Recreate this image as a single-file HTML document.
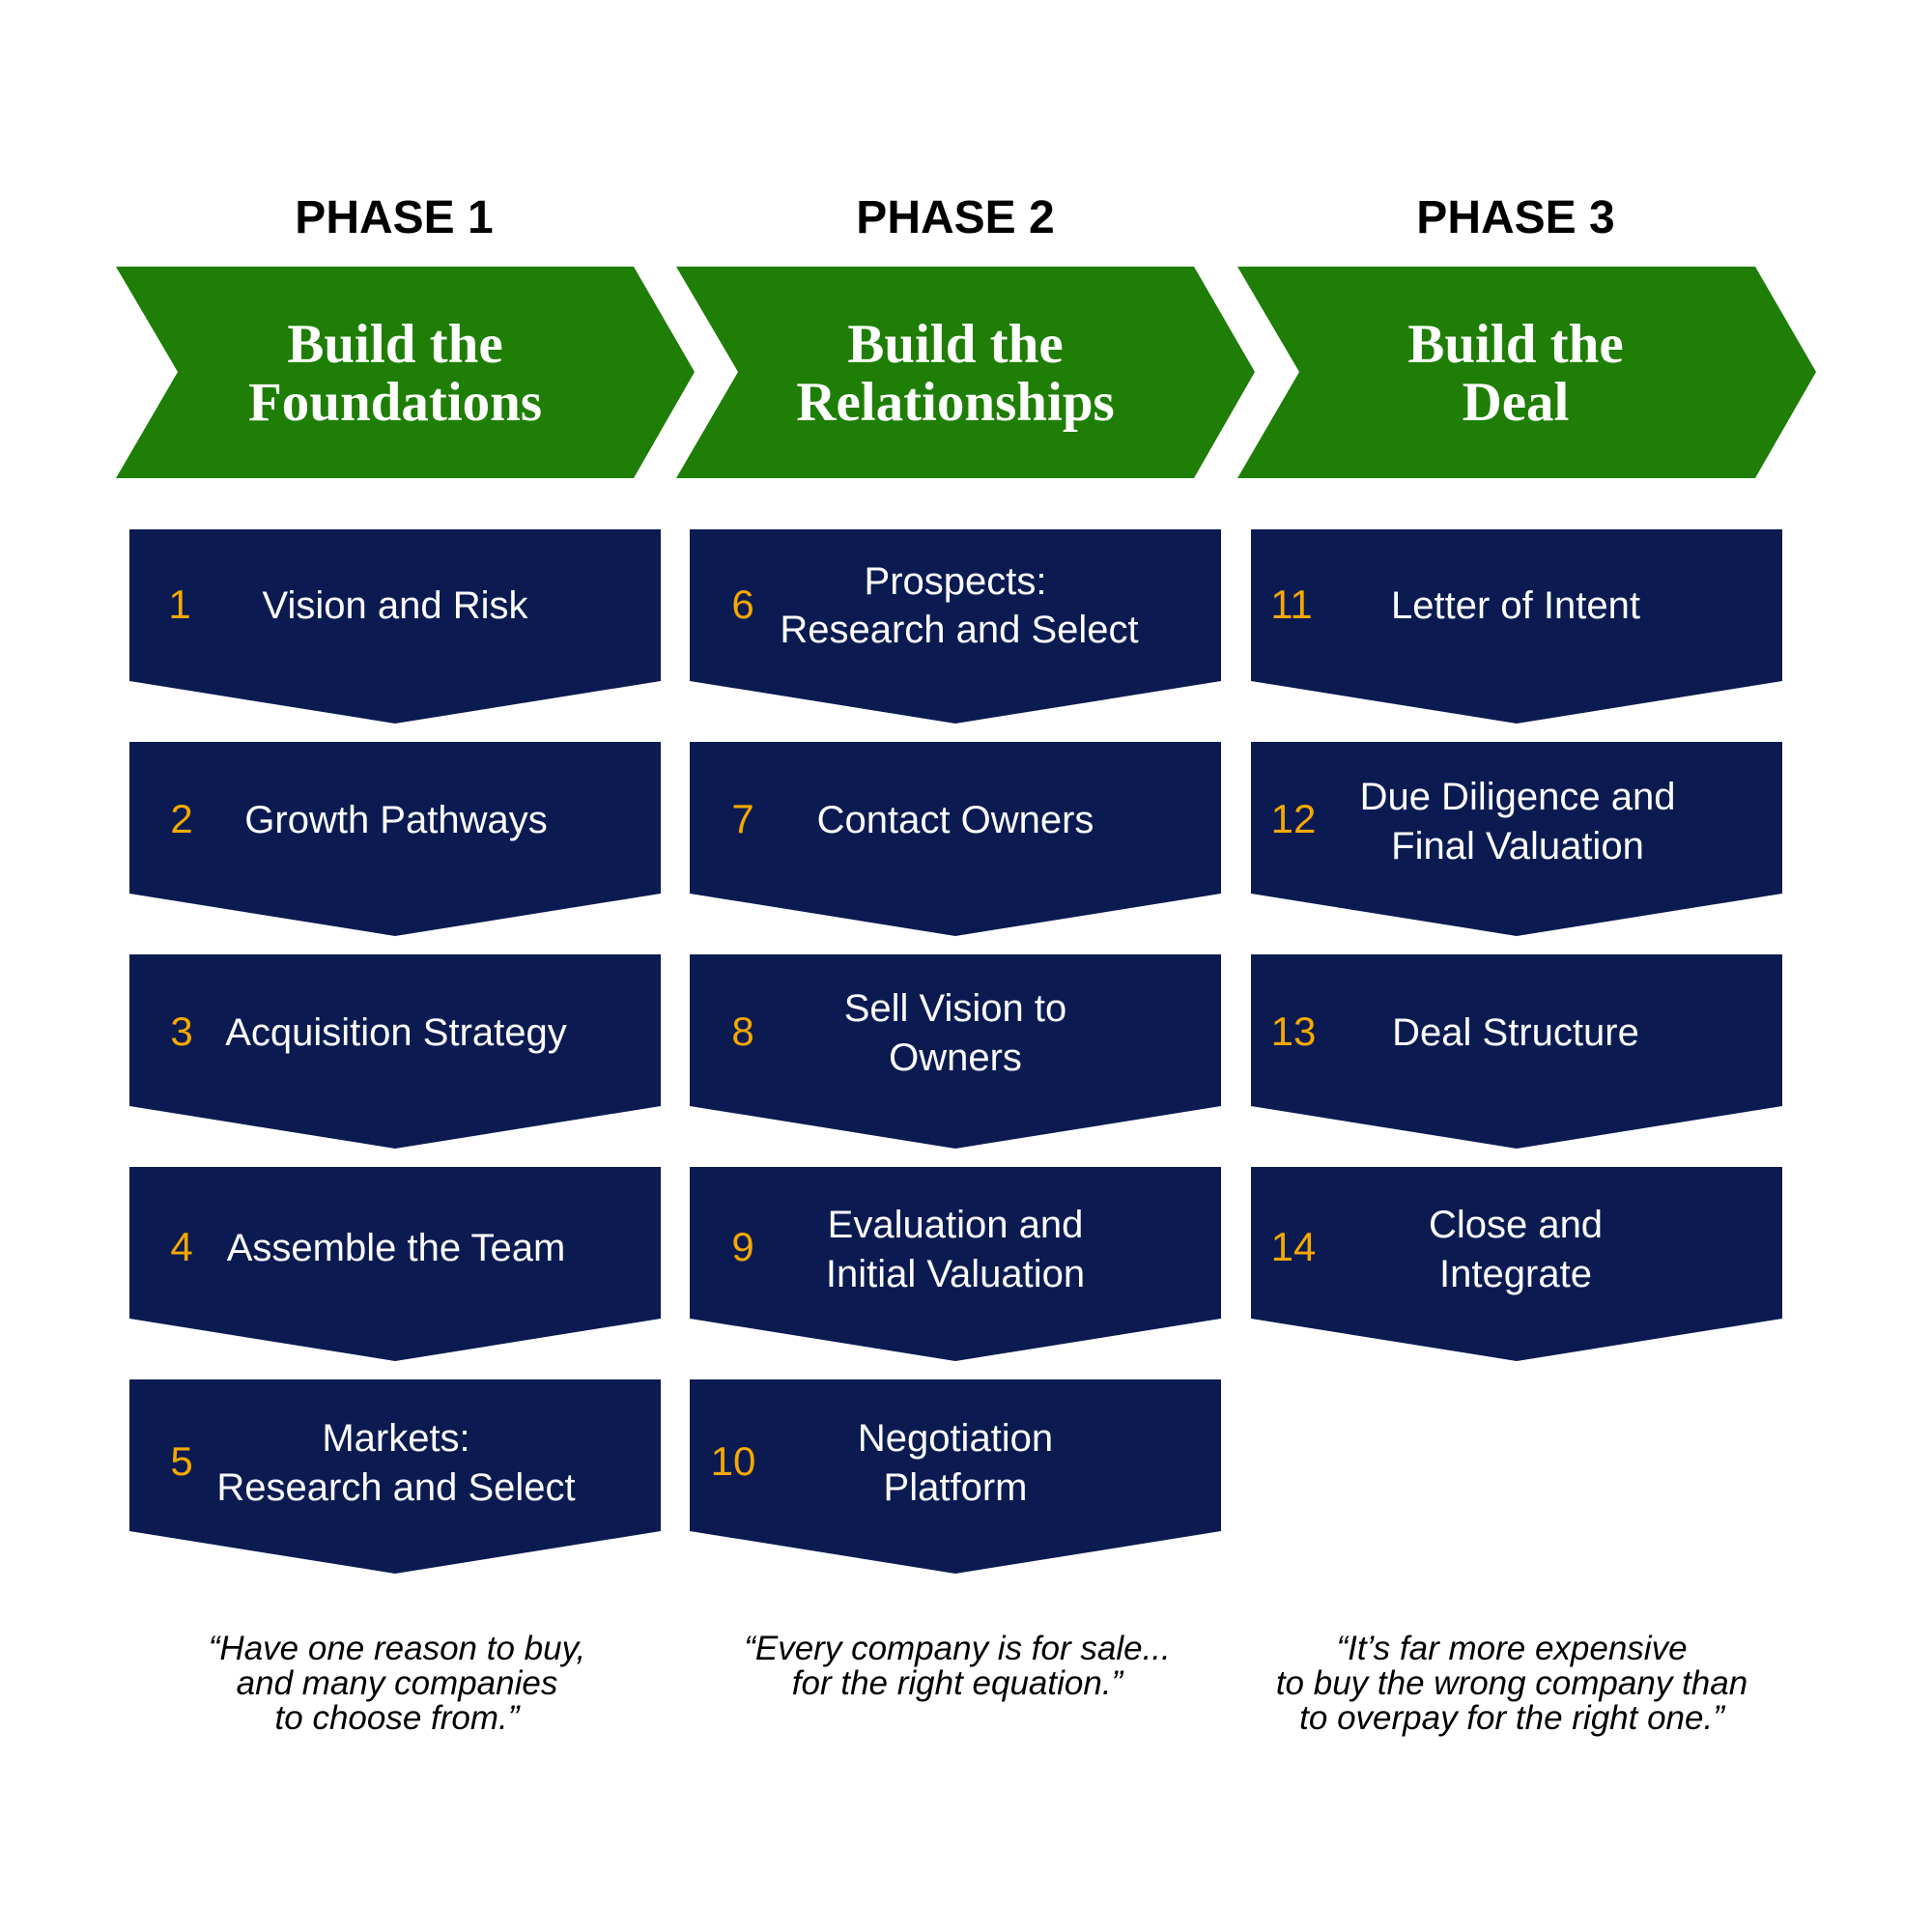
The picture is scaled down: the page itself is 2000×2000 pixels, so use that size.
<!DOCTYPE html>
<html><head><meta charset="utf-8"><style>
html,body{margin:0;padding:0;background:#fff}
svg{display:block}
.ph{font-family:"Liberation Sans",sans-serif;font-weight:bold;font-size:48px;fill:#000;text-anchor:middle}
.gt{font-family:"Liberation Serif",serif;font-weight:bold;font-size:57px;fill:#fff;text-anchor:middle}
.bt{font-family:"Liberation Sans",sans-serif;font-size:40px;fill:#fff;text-anchor:middle}
.nm{font-family:"Liberation Sans",sans-serif;font-size:42px;fill:#f5a800;text-anchor:middle}
.q{font-family:"Liberation Sans",sans-serif;font-style:italic;font-size:35px;fill:#000;text-anchor:middle}
</style></head><body>
<svg width="2000" height="2000" viewBox="0 0 2000 2000" xmlns="http://www.w3.org/2000/svg">
<defs>
<path id="box" d="M0 0 H550 V157 L275 201 L0 157 Z" fill="#0b1b52"/>
<path id="chev" d="M0 0 H536 L599 109 L536 219 H0 L64 109 Z" fill="#1e7e05"/>
</defs>
<text class="ph" x="408" y="241">PHASE 1</text>
<text class="ph" x="989" y="241">PHASE 2</text>
<text class="ph" x="1569" y="241">PHASE 3</text>

<use href="#chev" x="120" y="276"/>
<use href="#chev" x="700" y="276"/>
<use href="#chev" x="1281" y="276"/>
<text class="gt" x="409" y="375">Build the</text><text class="gt" x="409" y="435">Foundations</text>
<text class="gt" x="989" y="375">Build the</text><text class="gt" x="989" y="435">Relationships</text>
<text class="gt" x="1569" y="375">Build the</text><text class="gt" x="1569" y="435">Deal</text>

<use href="#box" x="134" y="548"/><use href="#box" x="134" y="768"/><use href="#box" x="134" y="988"/><use href="#box" x="134" y="1208"/><use href="#box" x="134" y="1428"/>
<use href="#box" x="714" y="548"/><use href="#box" x="714" y="768"/><use href="#box" x="714" y="988"/><use href="#box" x="714" y="1208"/><use href="#box" x="714" y="1428"/>
<use href="#box" x="1295" y="548"/><use href="#box" x="1295" y="768"/><use href="#box" x="1295" y="988"/><use href="#box" x="1295" y="1208"/>

<text class="nm" x="186" y="640">1</text><text class="bt" x="409" y="640">Vision and Risk</text>
<text class="nm" x="188" y="862">2</text><text class="bt" x="410" y="862">Growth Pathways</text>
<text class="nm" x="188" y="1082">3</text><text class="bt" x="410" y="1082">Acquisition Strategy</text>
<text class="nm" x="188" y="1305">4</text><text class="bt" x="410" y="1305">Assemble the Team</text>
<text class="nm" x="188" y="1527">5</text><text class="bt" x="410" y="1502">Markets:</text><text class="bt" x="410" y="1553">Research and Select</text>

<text class="nm" x="769" y="640">6</text><text class="bt" x="989" y="615">Prospects:</text><text class="bt" x="993" y="665">Research and Select</text>
<text class="nm" x="769" y="862">7</text><text class="bt" x="989" y="862">Contact Owners</text>
<text class="nm" x="769" y="1082">8</text><text class="bt" x="989" y="1057">Sell Vision to</text><text class="bt" x="989" y="1108">Owners</text>
<text class="nm" x="769" y="1305">9</text><text class="bt" x="989" y="1281">Evaluation and</text><text class="bt" x="989" y="1332">Initial Valuation</text>
<text class="nm" x="759" y="1527">10</text><text class="bt" x="989" y="1502">Negotiation</text><text class="bt" x="989" y="1553">Platform</text>

<text class="nm" x="1337" y="640">11</text><text class="bt" x="1569" y="640">Letter of Intent</text>
<text class="nm" x="1339" y="862">12</text><text class="bt" x="1571" y="838">Due Diligence and</text><text class="bt" x="1571" y="889">Final Valuation</text>
<text class="nm" x="1339" y="1082">13</text><text class="bt" x="1569" y="1082">Deal Structure</text>
<text class="nm" x="1339" y="1305">14</text><text class="bt" x="1569" y="1281">Close and</text><text class="bt" x="1569" y="1332">Integrate</text>

<text class="q" x="411" y="1718">“Have one reason to buy,</text>
<text class="q" x="411" y="1754">and many companies</text>
<text class="q" x="411" y="1790">to choose from.”</text>
<text class="q" x="991" y="1718">“Every company is for sale...</text>
<text class="q" x="991" y="1754">for the right equation.”</text>
<text class="q" x="1565" y="1718">“It’s far more expensive</text>
<text class="q" x="1565" y="1754">to buy the wrong company than</text>
<text class="q" x="1565" y="1790">to overpay for the right one.”</text>
</svg>
</body></html>
